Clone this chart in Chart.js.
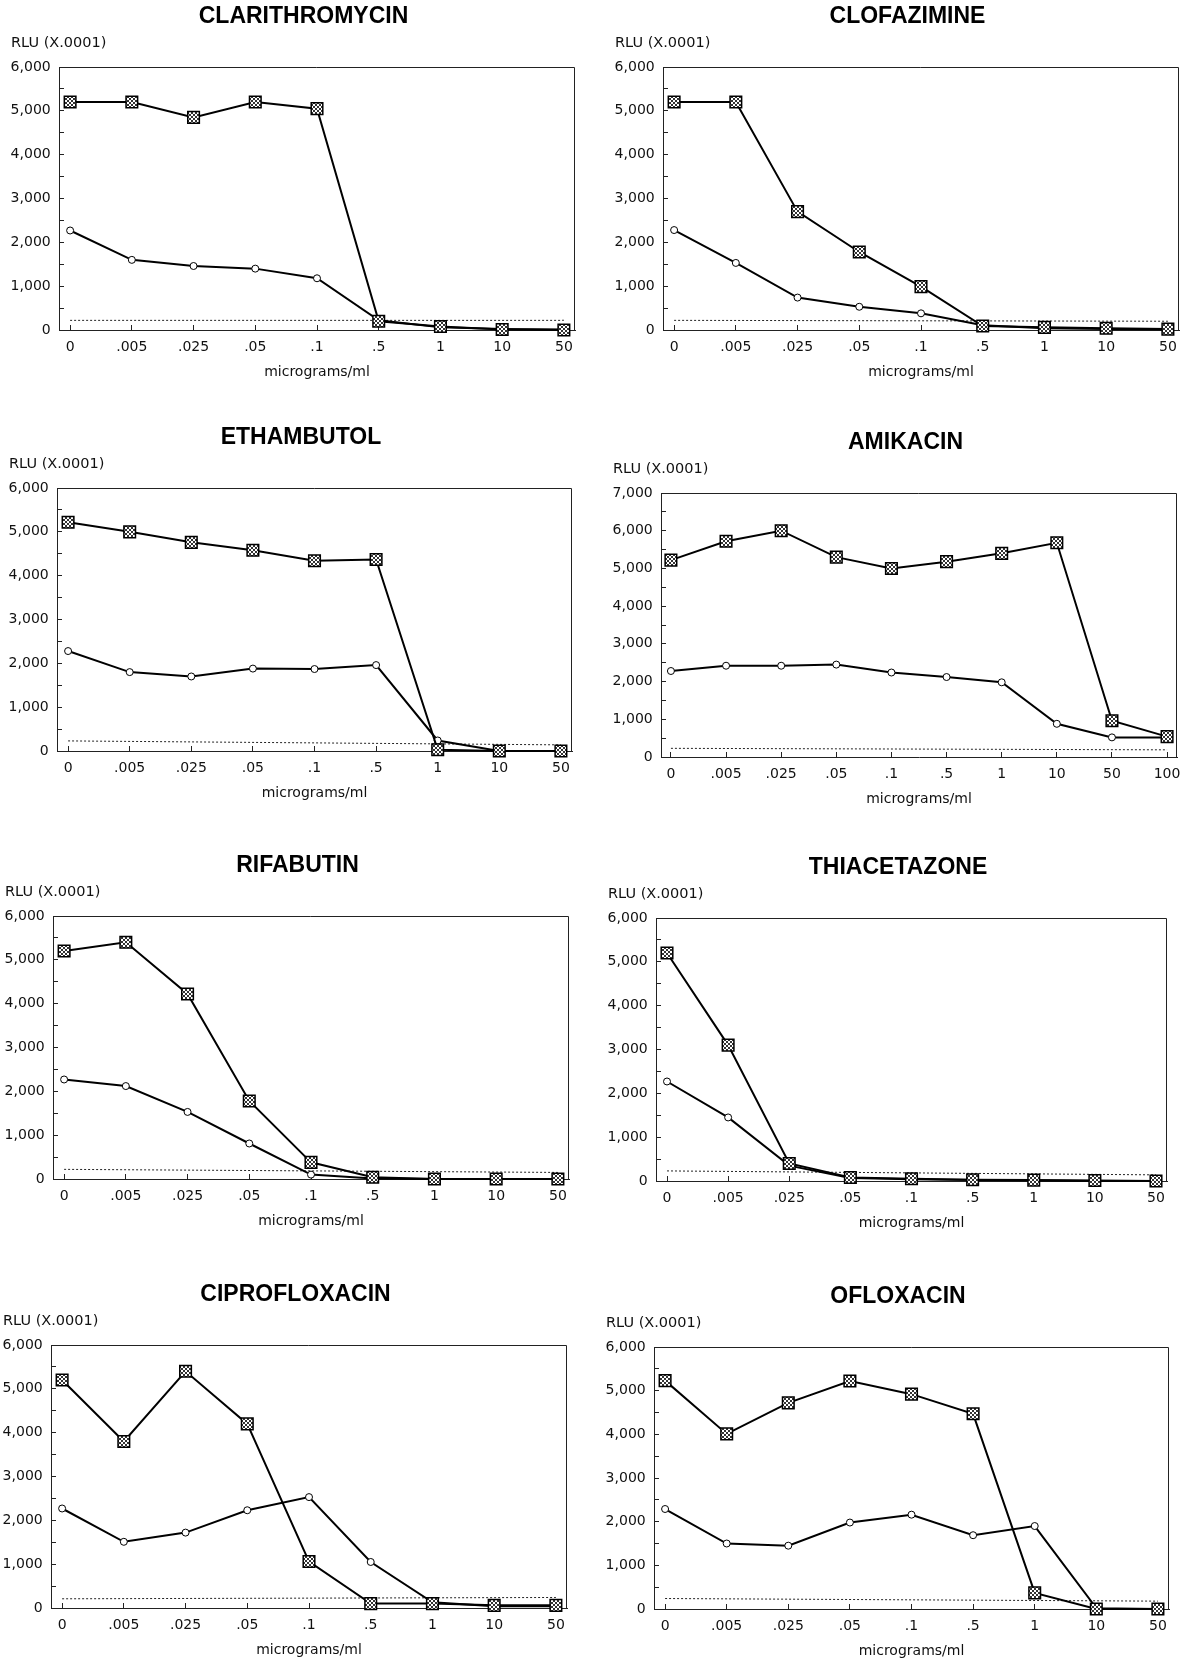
<!DOCTYPE html>
<html>
<head>
<meta charset="utf-8">
<script src="https://cdn.jsdelivr.net/npm/chart.js@4.4.1/dist/chart.umd.min.js"></script>
<style>
  html, body { margin: 0; background: #fff; overflow: hidden; }
  #page { position: relative; width: 1183px; height: 1662px; overflow: hidden; }
  canvas { position: absolute; }
</style>
</head>
<body>
<div id="page"></div>
<script>
// concentrations on the x axis (micrograms/ml)
const conc9 = ['0', '.005', '.025', '.05', '.1', '.5', '1', '10', '50'];
const conc10 = ['0', '.005', '.025', '.05', '.1', '.5', '1', '10', '50', '100'];

// RLU (x.0001), square series and circle series per drug
const clariSquare = [5200, 5200, 4850, 5200, 5050, 200, 80, 10, 0];
const clariCircle = [2270, 1600, 1460, 1400, 1180, 220, 60, 20, 10];

const clofaSquare = [5200, 5200, 2700, 1780, 990, 90, 60, 40, 20];
const clofaCircle = [2280, 1530, 740, 530, 380, 110, 40, 20, 10];

const ethamSquare = [5220, 5000, 4760, 4580, 4340, 4370, 30, 0, 0];
const ethamCircle = [2280, 1800, 1700, 1880, 1870, 1960, 240, 0, 0];

const amikSquare = [5220, 5720, 6000, 5300, 5000, 5180, 5400, 5680, 960, 540];
const amikCircle = [2280, 2420, 2420, 2450, 2240, 2120, 1980, 880, 520, 520];

const rifaSquare = [5200, 5400, 4220, 1780, 380, 40, 0, 0, 0];
const rifaCircle = [2270, 2120, 1530, 810, 100, 10, 0, 0, 0];

const thiaSquare = [5200, 3100, 400, 80, 50, 30, 20, 10, 0];
const thiaCircle = [2270, 1450, 350, 70, 40, 20, 10, 0, 0];

const ciproSquare = [5200, 3800, 5400, 4200, 1060, 100, 100, 60, 60];
const ciproCircle = [2270, 1510, 1720, 2230, 2530, 1050, 130, 40, 40];

const oflaSquare = [5230, 4010, 4720, 5220, 4920, 4470, 370, 0, 0];
const oflaCircle = [2290, 1500, 1450, 1980, 2160, 1690, 1900, 20, 0];

// dotted reference line: value at first and last concentration
const clariThr = [220, 220];
const clofaThr = [220, 200];
const ethamThr = [230, 140];
const amikThr = [230, 190];
const rifaThr = [220, 150];
const thiaThr = [230, 140];
const ciproThr = [210, 240];
const oflaThr = [240, 180];

const panels = [
  { name: 'CLARITHROMYCIN', labels: conc9, sq: clariSquare, ci: clariCircle, thr: clariThr, yMax: 6000 },
  { name: 'CLOFAZIMINE', labels: conc9, sq: clofaSquare, ci: clofaCircle, thr: clofaThr, yMax: 6000 },
  { name: 'ETHAMBUTOL', labels: conc9, sq: ethamSquare, ci: ethamCircle, thr: ethamThr, yMax: 6000 },
  { name: 'AMIKACIN', labels: conc10, sq: amikSquare, ci: amikCircle, thr: amikThr, yMax: 7000 },
  { name: 'RIFABUTIN', labels: conc9, sq: rifaSquare, ci: rifaCircle, thr: rifaThr, yMax: 6000 },
  { name: 'THIACETAZONE', labels: conc9, sq: thiaSquare, ci: thiaCircle, thr: thiaThr, yMax: 6000 },
  { name: 'CIPROFLOXACIN', labels: conc9, sq: ciproSquare, ci: ciproCircle, thr: ciproThr, yMax: 6000 },
  { name: 'OFLOXACIN', labels: conc9, sq: oflaSquare, ci: oflaCircle, thr: oflaThr, yMax: 6000 }
];

// plot area boxes on the page [left, top, right, bottom]
const boxes = [
  [59, 67, 575, 330], [663, 67, 1179, 330],
  [57, 488, 572, 751], [661, 493, 1177, 757],
  [53, 916, 569, 1179], [656, 918, 1167, 1181],
  [51, 1345, 567, 1608], [654, 1347, 1169, 1609]
];

const TITLE_FONT = '"Liberation Sans", Arial, Helvetica, sans-serif';
const FONT = '"DejaVu Sans", Verdana, sans-serif';
const Y_W = 48, EXTRA_R = 21, TOP_H = 67, BOT_H = 54.4, MARGIN = 0.18;

// checkered fill for the square markers
function checker() {
  const c = document.createElement('canvas');
  c.width = 4; c.height = 4;
  const g = c.getContext('2d');
  g.fillStyle = '#fff'; g.fillRect(0, 0, 4, 4);
  g.fillStyle = '#333';
  g.fillRect(0, 0, 2, 2); g.fillRect(2, 2, 2, 2);
  return g.createPattern(c, 'repeat');
}

// top and right edges of the plot frame
const frame = {
  id: 'frame',
  beforeDatasetsDraw(chart) {
    const { ctx, chartArea: a } = chart;
    ctx.save();
    ctx.strokeStyle = '#222';
    ctx.lineWidth = 1;
    ctx.beginPath();
    ctx.moveTo(a.left, a.top + 0.5);
    ctx.lineTo(a.right - 0.5, a.top + 0.5);
    ctx.lineTo(a.right - 0.5, a.bottom);
    ctx.stroke();
    ctx.restore();
  }
};

const page = document.getElementById('page');

panels.forEach((p, k) => {
  const [L, T, R, B] = boxes[k];
  const W = Y_W + (R - L) + EXTRA_R + 2;
  const H = Math.ceil(TOP_H + (B - T) + BOT_H);
  const cv = document.createElement('canvas');
  cv.width = W; cv.height = H;
  cv.style.left = (L - Y_W) + 'px';
  cv.style.top = (T - TOP_H) + 'px';
  page.appendChild(cv);

  const n = p.labels.length;
  const pts = arr => arr.map((v, i) => ({ x: i, y: v }));

  new Chart(cv, {
    type: 'line',
    data: {
      datasets: [
        {
          data: pts(p.sq), yAxisID: 'y', order: 0, clip: false,
          borderColor: '#000', borderWidth: 2, tension: 0,
          pointStyle: 'rect', pointRadius: 8.2, pointHoverRadius: 8.2,
          pointBackgroundColor: checker(), pointBorderColor: '#000', pointBorderWidth: 1.5
        },
        {
          data: pts(p.ci), yAxisID: 'y', order: 1, clip: false,
          borderColor: '#000', borderWidth: 2, tension: 0,
          pointStyle: 'circle', pointRadius: 3.5, pointHoverRadius: 3.5,
          pointBackgroundColor: '#fff', pointBorderColor: '#000', pointBorderWidth: 1
        },
        {
          data: [{ x: 0, y: p.thr[0] }, { x: n - 1, y: p.thr[1] }], yAxisID: 'y', order: 2,
          borderColor: '#222', borderWidth: 1, borderDash: [2, 2], pointRadius: 0
        }
      ]
    },
    options: {
      responsive: false,
      animation: false,
      events: [],
      layout: { padding: { left: 0, right: 2, top: 0, bottom: H - TOP_H - (B - T) - BOT_H } },
      plugins: {
        legend: { display: false },
        tooltip: { enabled: false },
        title: {
          display: true, text: p.name, color: '#000',
          font: { family: TITLE_FONT, size: 23, weight: 'bold' },
          padding: { top: 3.2, bottom: 1 }
        },
        subtitle: {
          display: true, text: 'RLU (X.0001)', align: 'start', color: '#111',
          font: { family: FONT, size: 14.5 },
          padding: { top: 2.5, bottom: 15.3 }
        }
      },
      scales: {
        x: {
          type: 'linear', min: -MARGIN, max: n - 1 + MARGIN,
          afterBuildTicks: s => { s.ticks = p.labels.map((_, i) => ({ value: i })); },
          afterFit: s => { s.height = BOT_H; },
          ticks: {
            autoSkip: false, maxRotation: 0, padding: 13.6, color: '#111',
            font: { family: FONT, size: 14 },
            callback: v => p.labels[Math.round(v)]
          },
          grid: { drawOnChartArea: false, tickLength: -5, color: '#222' },
          border: { color: '#222', width: 1 },
          title: {
            display: true, text: 'micrograms/ml', color: '#111',
            font: { family: FONT, size: 14 },
            padding: { top: 8, bottom: 4 }
          }
        },
        y: {
          type: 'linear', position: 'left', min: 0, max: p.yMax,
          afterFit: s => { s.width = Y_W; },
          ticks: {
            stepSize: 500, autoSkip: false, padding: 13.3, color: '#111',
            font: { family: FONT, size: 14 },
            callback: v => (v % 1000 === 0 ? v.toLocaleString('en-US') : '')
          },
          grid: { drawOnChartArea: false, tickLength: -5, color: '#222' },
          border: { color: '#222', width: 1 }
        },
        yr: {
          type: 'linear', position: 'right', display: true,
          afterFit: s => { s.width = EXTRA_R; },
          ticks: { display: false },
          grid: { display: false },
          border: { display: false }
        }
      }
    },
    plugins: [frame]
  });
});
</script>
</body>
</html>
